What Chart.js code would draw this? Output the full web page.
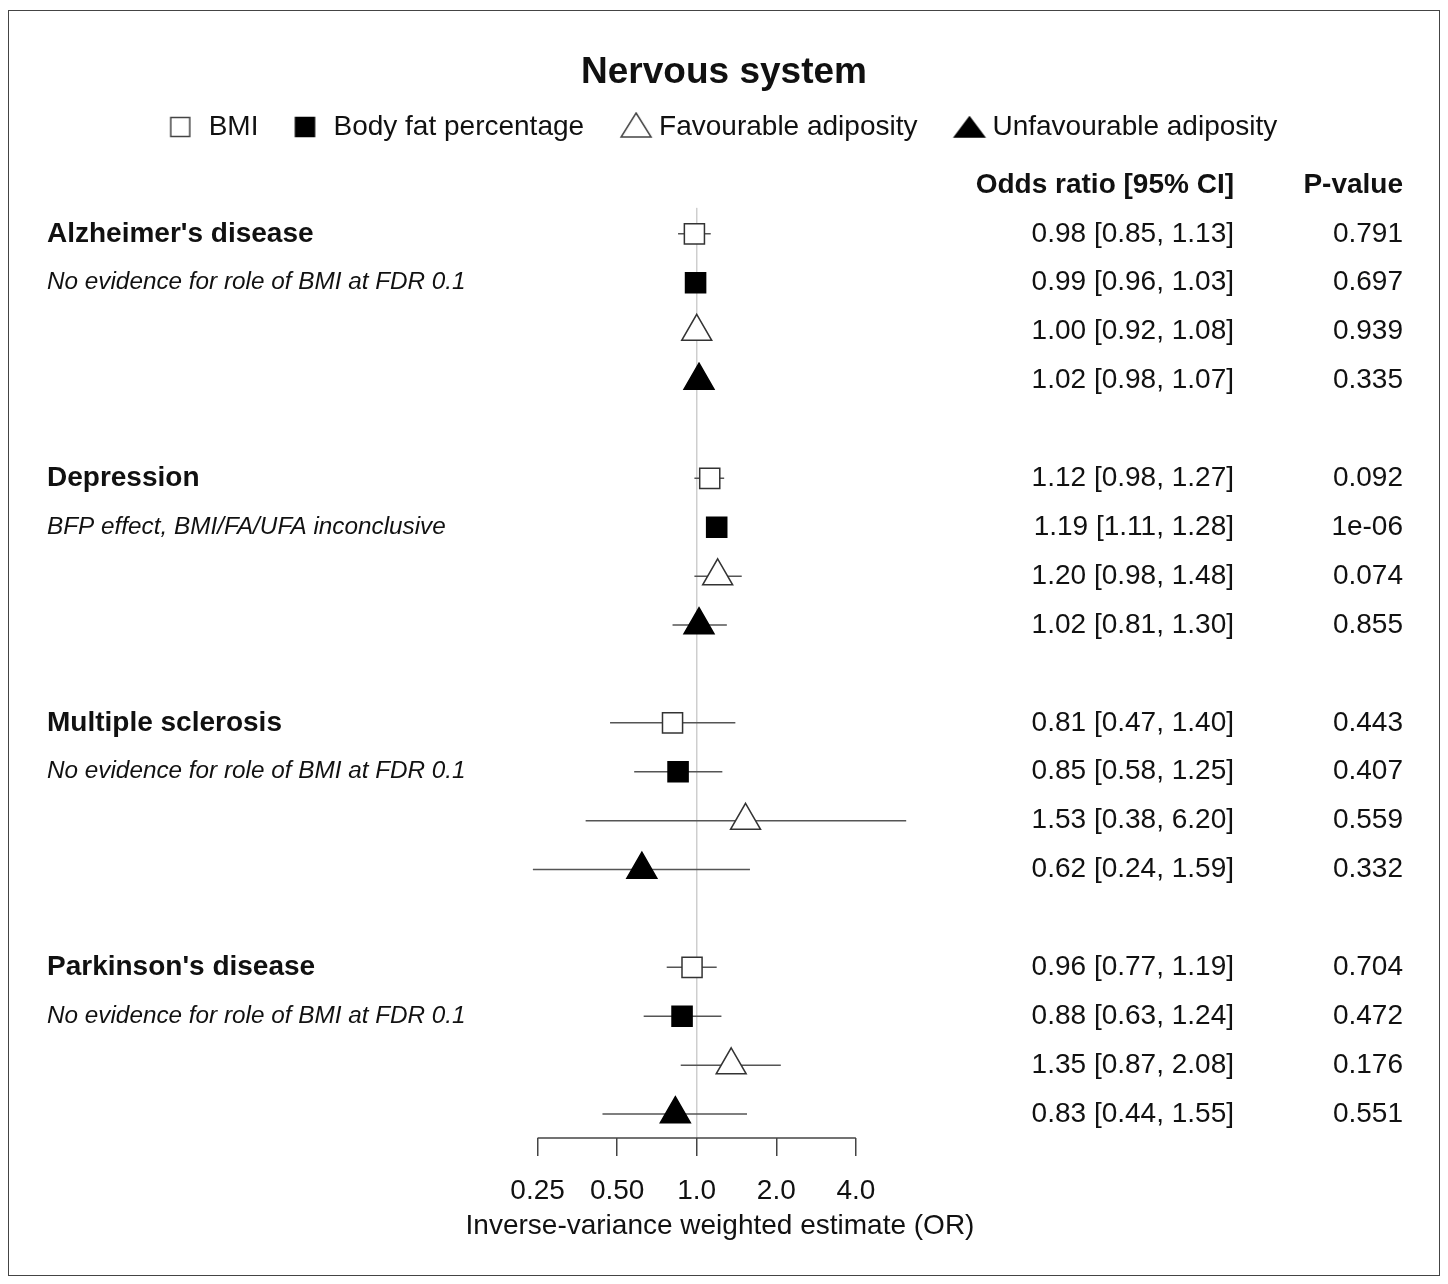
<!DOCTYPE html>
<html>
<head>
<meta charset="utf-8">
<title>Nervous system</title>
<script src="https://cdn.jsdelivr.net/npm/chart.js@4/dist/chart.umd.min.js"></script>
<style>
  html, body { margin: 0; padding: 0; background: #fff; }
  #wrap { position: relative; width: 1448px; height: 1284px; }
  #frame { position: absolute; left: 8px; top: 10px; width: 1430px; height: 1264px; border: 1.5px solid #444; pointer-events: none; }
  canvas { position: absolute; left: 0; top: 0; }
</style>
</head>
<body>
<div id="wrap">
  <canvas id="chart" width="1448" height="1284"></canvas>
  <div id="frame"></div>
</div>
<script>
// ── Data ─────────────────────────────────────────────────
const diseases = ["Alzheimer's disease", "Depression", "Multiple sclerosis", "Parkinson's disease"];
const notes = [
  "No evidence for role of BMI at FDR 0.1",
  "BFP effect, BMI/FA/UFA inconclusive",
  "No evidence for role of BMI at FDR 0.1",
  "No evidence for role of BMI at FDR 0.1"
];
const exposures = ["BMI", "Body fat percentage", "Favourable adiposity", "Unfavourable adiposity"];

// one entry per disease, in the order above
const bmiOR  = [0.98, 1.12, 0.81, 0.96];
const bmiLo  = [0.85, 0.98, 0.47, 0.77];
const bmiHi  = [1.13, 1.27, 1.40, 1.19];
const bmiP   = ["0.791", "0.092", "0.443", "0.704"];

const bfpOR  = [0.99, 1.19, 0.85, 0.88];
const bfpLo  = [0.96, 1.11, 0.58, 0.63];
const bfpHi  = [1.03, 1.28, 1.25, 1.24];
const bfpP   = ["0.697", "1e-06", "0.407", "0.472"];

const faOR   = [1.00, 1.20, 1.53, 1.35];
const faLo   = [0.92, 0.98, 0.38, 0.87];
const faHi   = [1.08, 1.48, 6.20, 2.08];
const faP    = ["0.939", "0.074", "0.559", "0.176"];

const ufaOR  = [1.02, 1.02, 0.62, 0.83];
const ufaLo  = [0.98, 0.81, 0.24, 0.44];
const ufaHi  = [1.07, 1.30, 1.59, 1.55];
const ufaP   = ["0.335", "0.855", "0.332", "0.551"];

const tickValues = [0.25, 0.5, 1, 2, 4];
const tickLabels = ["0.25", "0.50", "1.0", "2.0", "4.0"];

// ── Helpers ──────────────────────────────────────────────
const FONT = "'Liberation Sans', Arial, Helvetica, sans-serif";
const ROWS_PER_GROUP = 5;   // 4 exposures + blank spacer row
const rowOf = (d, e) => d * ROWS_PER_GROUP + e;

const series = [
  { or: bmiOR, lo: bmiLo, hi: bmiHi, p: bmiP, style: "rect",     filled: false },
  { or: bfpOR, lo: bfpLo, hi: bfpHi, p: bfpP, style: "rect",     filled: true  },
  { or: faOR,  lo: faLo,  hi: faHi,  p: faP,  style: "triangle", filled: false },
  { or: ufaOR, lo: ufaLo, hi: ufaHi, p: ufaP, style: "triangle", filled: true  }
];

// legend glyphs: the image is centred on the legend box, so the glyph is
// drawn at an offset that puts it at the left edge of that box
const LEG_BOX = 24, GLYPH_CANVAS = 64;
function legendGlyph(style, filled, w, h, top) {
  const c = document.createElement("canvas");
  c.width = GLYPH_CANVAS; c.height = 30;
  const g = c.getContext("2d");
  const left = GLYPH_CANVAS / 2 - LEG_BOX / 2;
  g.lineWidth = 1.5;
  g.strokeStyle = filled ? "#000" : "#444";
  g.fillStyle = filled ? "#000" : "#fff";
  g.beginPath();
  if (style === "rect") {
    g.rect(left, top, w, h);
  } else {
    g.moveTo(left + w / 2, top);
    g.lineTo(left + w, top + h);
    g.lineTo(left, top + h);
    g.closePath();
  }
  g.fill();
  g.stroke();
  return c;
}
const legendGlyphs = [
  legendGlyph("rect", false, 19, 19, 5.5),
  legendGlyph("rect", true, 19, 19, 5.5),
  legendGlyph("triangle", false, 30, 24, 1),
  legendGlyph("triangle", true, 30, 20, 5)
];

// ── Datasets ─────────────────────────────────────────────
const markerSets = series.map((s, e) => ({
  type: "scatter",
  label: exposures[e],
  data: diseases.map((_, d) => ({ x: s.or[d], y: rowOf(d, e) })),
  pointStyle: s.style,
  pointRadius: s.style === "rect" ? 14.2 : 17.3,
  pointHoverRadius: s.style === "rect" ? 14.2 : 17.3,
  backgroundColor: s.filled ? "#000" : "#fff",
  borderColor: s.filled ? "#000" : "#333",
  borderWidth: 1.5,
  clip: false
}));

const ciData = [];
series.forEach((s, e) => {
  diseases.forEach((_, d) => {
    ciData.push({ x: s.lo[d], y: rowOf(d, e) }, { x: s.hi[d], y: rowOf(d, e) }, { x: s.or[d], y: null });
  });
});

const lastRow = rowOf(diseases.length - 1, exposures.length - 1);
const Y_MIN = -1.694, Y_MAX = lastRow + 0.49;

const datasets = [
  ...markerSets,
  {
    type: "line", label: "CI", data: ciData,
    borderColor: "#555", borderWidth: 1.5, pointRadius: 0, spanGaps: false, clip: false
  },
  {
    type: "line", label: "ref", data: [{ x: 1, y: -0.53 }, { x: 1, y: Y_MAX }],
    borderColor: "#cfcfcf", borderWidth: 1, pointRadius: 0, clip: false
  }
];

// ── Plugins: axis segment + table text ───────────────────
const axisSegment = {
  id: "axisSegment",
  afterDatasetsDraw(chart) {
    const { ctx, chartArea, scales: { x } } = chart;
    ctx.save();
    ctx.strokeStyle = "#444";
    ctx.lineWidth = 1.5;
    ctx.beginPath();
    ctx.moveTo(x.getPixelForValue(tickValues[0]), chartArea.bottom);
    ctx.lineTo(x.getPixelForValue(tickValues[tickValues.length - 1]), chartArea.bottom);
    ctx.stroke();
    ctx.restore();
  }
};

const tableText = {
  id: "tableText",
  afterDraw(chart) {
    const { ctx, scales: { y } } = chart;
    const OR_X = 1234, P_X = 1403, LABEL_X = 47;
    ctx.save();
    ctx.fillStyle = "#111";
    ctx.textBaseline = "middle";

    ctx.font = "bold 28px " + FONT;
    ctx.textAlign = "right";
    ctx.fillText("Odds ratio [95% CI]", OR_X, y.getPixelForValue(-1));
    ctx.fillText("P-value", P_X, y.getPixelForValue(-1));

    diseases.forEach((name, d) => {
      ctx.textAlign = "left";
      ctx.font = "bold 28px " + FONT;
      ctx.fillText(name, LABEL_X, y.getPixelForValue(rowOf(d, 0)));
      ctx.font = "italic 24.3px " + FONT;
      ctx.fillText(notes[d], LABEL_X, y.getPixelForValue(rowOf(d, 1)));

      ctx.font = "28px " + FONT;
      ctx.textAlign = "right";
      series.forEach((s, e) => {
        const yy = y.getPixelForValue(rowOf(d, e));
        const txt = s.or[d].toFixed(2) + " [" + s.lo[d].toFixed(2) + ", " + s.hi[d].toFixed(2) + "]";
        ctx.fillText(txt, OR_X, yy);
        ctx.fillText(s.p[d], P_X, yy);
      });
    });
    ctx.restore();
  }
};

// ── Chart ────────────────────────────────────────────────
new Chart(document.getElementById("chart"), {
  data: { datasets },
  options: {
    responsive: false,
    animation: false,
    events: [],
    layout: { padding: { top: 0, bottom: 36.8, left: 0, right: 0 } },
    plugins: {
      tooltip: { enabled: false },
      title: {
        display: true,
        text: "Nervous system",
        color: "#111",
        font: { family: FONT, size: 37, weight: "bold", lineHeight: 1 },
        padding: { top: 54.5, bottom: -15.5 }
      },
      legend: {
        display: true,
        labels: {
          color: "#111",
          font: { family: FONT, size: 28 },
          usePointStyle: true,
          boxHeight: 20,
          pointStyleWidth: LEG_BOX,
          padding: 37,
          generateLabels() {
            return exposures.map((name, e) => ({
              text: name,
              datasetIndex: e,
              pointStyle: legendGlyphs[e],
              fillStyle: "#000",
              strokeStyle: "#000",
              lineWidth: 0,
              fontColor: "#111"
            }));
          }
        }
      }
    },
    scales: {
      x: {
        type: "logarithmic",
        min: 0.125,
        max: 12,
        afterBuildTicks(scale) {
          scale.ticks = tickValues.map(v => ({ value: v }));
        },
        border: { display: false },
        grid: { display: true, drawOnChartArea: false, drawTicks: true, tickLength: 18, color: "#444", lineWidth: 1.5 },
        ticks: {
          autoSkip: false,
          maxRotation: 0,
          padding: 18.8,
          color: "#111",
          font: { family: FONT, size: 28 },
          callback: (value, index) => tickLabels[index]
        },
        title: {
          display: true,
          text: "Inverse-variance weighted estimate (OR)",
          color: "#111",
          font: { family: FONT, size: 28 },
          padding: { top: -17.6, bottom: 4 }
        }
      },
      y: {
        type: "linear",
        reverse: true,
        min: Y_MIN,
        max: Y_MAX,
        display: true,
        grid: { display: false, drawTicks: false },
        border: { display: false },
        ticks: { display: false },
        afterFit(scale) { scale.width = 458; }
      },
      yRight: {
        type: "linear",
        position: "right",
        display: true,
        grid: { display: false, drawTicks: false },
        border: { display: false },
        ticks: { display: false },
        afterFit(scale) { scale.width = 466; }
      }
    }
  },
  plugins: [axisSegment, tableText]
});
</script>
</body>
</html>
